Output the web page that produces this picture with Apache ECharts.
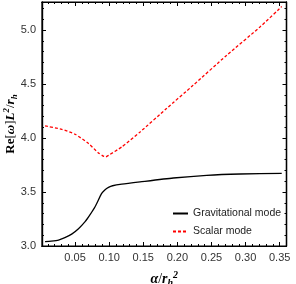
<!DOCTYPE html>
<html>
<head>
<meta charset="utf-8">
<script src="https://cdn.jsdelivr.net/npm/echarts@6/dist/echarts.min.js"></script>
<style>html,body{margin:0;padding:0;background:#fff;}#c{width:296px;height:284px;}</style>
</head>
<body>
<div id="c"></div>
<script>
// ---- data ----
const alphaGrav = [0.006, 0.015, 0.0257, 0.035, 0.045, 0.055, 0.0647, 0.072, 0.0793, 0.089, 0.094, 0.099, 0.105, 0.1185, 0.1453, 0.194, 0.243, 0.292, 0.353];
const gravMode  = [3.040, 3.045, 3.055, 3.078, 3.110, 3.160, 3.225, 3.290, 3.363, 3.487, 3.522, 3.543, 3.558, 3.573, 3.594, 3.630, 3.655, 3.667, 3.672];
const alphaScalar = [0.006, 0.0305, 0.05, 0.0697, 0.0843, 0.0916, 0.095, 0.099, 0.1185, 0.1453, 0.184, 0.223, 0.272, 0.3208, 0.353];
const scalarMode  = [4.112, 4.081, 4.035, 3.949, 3.862, 3.832, 3.826, 3.840, 3.918, 4.056, 4.273, 4.488, 4.765, 5.027, 5.218];
const seriesNames = ['Gravitational mode', 'Scalar mode'];
const xMajorTicks = [0.05, 0.10, 0.15, 0.20, 0.25, 0.30, 0.35];
const xMinorTicks = [0.01, 0.02, 0.03, 0.04, 0.06, 0.07, 0.08, 0.09, 0.11, 0.12, 0.13, 0.14, 0.16, 0.17, 0.18, 0.19, 0.21, 0.22, 0.23, 0.24, 0.26, 0.27, 0.28, 0.29, 0.31, 0.32, 0.33, 0.34];
const yMajorTicks = [3.0, 3.5, 4.0, 4.5, 5.0];
const yMinorTicks = [3.1, 3.2, 3.3, 3.4, 3.6, 3.7, 3.8, 3.9, 4.1, 4.2, 4.3, 4.4, 4.6, 4.7, 4.8, 4.9, 5.1, 5.2];
const X_MIN = 0.0015, X_MAX = 0.36, Y_MIN = 3.0, Y_MAX = 5.26;

const labelFont = {color: '#333', fontSize: 11, fontFamily: 'Liberation Sans, Arial, sans-serif'};

function xAx(pos, ticks, len, showLabel, extra) {
  return Object.assign({
    type: 'value', position: pos, min: X_MIN, max: X_MAX, gridIndex: 0,
    axisLine: {show: true, onZero: false, lineStyle: {color: '#000', width: 1.2}},
    axisTick: {show: true, inside: true, length: len, customValues: ticks, lineStyle: {color: '#000', width: 1}},
    axisLabel: Object.assign({show: showLabel, customValues: ticks, margin: 6, formatter: v => v.toFixed(2)}, labelFont),
    splitLine: {show: false}
  }, extra || {});
}
function yAx(pos, ticks, len, showLabel, extra) {
  return Object.assign({
    type: 'value', position: pos, min: Y_MIN, max: Y_MAX, gridIndex: 0,
    axisLine: {show: true, onZero: false, lineStyle: {color: '#000', width: 1.2}},
    axisTick: {show: true, inside: true, length: len, customValues: ticks, lineStyle: {color: '#000', width: 1}},
    axisLabel: Object.assign({show: showLabel, customValues: ticks, margin: 6, formatter: v => v.toFixed(1)}, labelFont),
    splitLine: {show: false}
  }, extra || {});
}

const serif = 'Liberation Serif, DejaVu Serif, serif';
function rich(sz) {
  return {
    b:   {fontFamily: serif, fontSize: sz, fontWeight: 'bold', color: '#000', lineHeight: sz + 4},
    n:   {fontFamily: serif, fontSize: sz, color: '#000', lineHeight: sz + 4},
    i:   {fontFamily: serif, fontSize: sz, fontStyle: 'italic', fontWeight: 'bold', color: '#000', lineHeight: sz + 4},
    sup: {fontFamily: serif, fontSize: sz - 4, fontStyle: 'italic', fontWeight: 'bold', color: '#000', lineHeight: sz - 3, verticalAlign: 'top'},
    sub: {fontFamily: serif, fontSize: sz - 4, fontStyle: 'italic', fontWeight: 'bold', color: '#000', lineHeight: sz - 3, verticalAlign: 'bottom'}
  };
}

const chart = echarts.init(document.getElementById('c'), null, {renderer: 'canvas'});
chart.setOption({
  animation: false,
  backgroundColor: '#fff',
  grid: {left: 42, right: 9.5, top: 2, bottom: 38, containLabel: false, outerBoundsMode: 'none',
         show: true, borderColor: '#000', borderWidth: 1.2},
  xAxis: [
    xAx('bottom', xMajorTicks, 4, true, {
      name: '{i|α}{n|/}{i|r}{sub|h}{sup|2}', nameLocation: 'middle', nameGap: 24, nameMoveOverlap: false,
      nameTextStyle: {rich: rich(14)}
    }),
    xAx('bottom', xMinorTicks, 2, false),
    xAx('top', xMajorTicks, 4, false),
    xAx('top', xMinorTicks, 2, false)
  ],
  yAxis: [
    yAx('left', yMajorTicks, 4, true, {
      name: '{b|Re}{n|[}{i|ω}{n|]}{i|L}{sup|2}{n|/}{i|r}{sub|h}', nameLocation: 'middle', nameGap: 23, nameRotate: 90,
      nameMoveOverlap: false,
      nameTextStyle: {rich: rich(13)}
    }),
    yAx('left', yMinorTicks, 2, false),
    yAx('right', yMajorTicks, 4, false),
    yAx('right', yMinorTicks, 2, false)
  ],
  legend: {
    orient: 'vertical', left: 172, top: 208, padding: 0, itemWidth: 15, itemHeight: 10, itemGap: 7,
    itemStyle: {opacity: 0},
    textStyle: {color: '#222', fontSize: 10.5, fontFamily: 'Liberation Sans, Arial, sans-serif'},
    data: seriesNames
  },
  series: [
    {
      name: seriesNames[0], type: 'line', xAxisIndex: 0, yAxisIndex: 0, symbol: 'none', smooth: 0.2,
      lineStyle: {color: '#000', width: 1.3}, itemStyle: {color: '#000'},
      data: alphaGrav.map((a, i) => [a, gravMode[i]])
    },
    {
      name: seriesNames[1], type: 'line', xAxisIndex: 0, yAxisIndex: 0, symbol: 'none', smooth: 0.2,
      lineStyle: {color: '#ff0000', width: 1.3, type: [3, 2]}, itemStyle: {color: '#ff0000'},
      data: alphaScalar.map((a, i) => [a, scalarMode[i]])
    }
  ]
});
</script>
</body>
</html>
